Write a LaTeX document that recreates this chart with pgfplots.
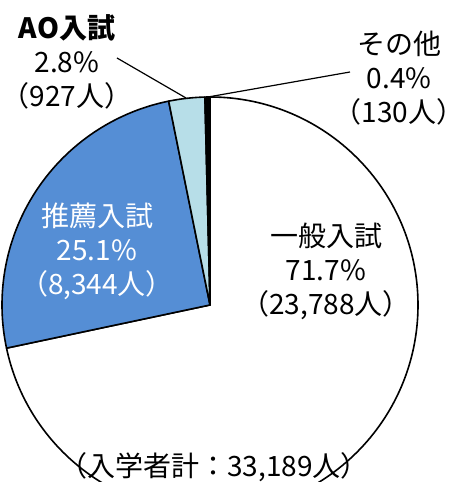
\documentclass[border=0pt]{standalone}
\usepackage{pgfplots}
\usepackage{pgfplotstable}
\pgfplotsset{compat=1.18}
\usepackage{fontspec}
\setmainfont{Noto Sans CJK JP}
\definecolor{suisenblue}{RGB}{85,142,213}
\definecolor{aoblue}{RGB}{183,222,232}
\pgfplotstableread{
label count
general 23788
suisen 8344
ao 927
other 130
}\entrytable
\begin{document}
\begin{tikzpicture}
\pgfplotstablegetelem{0}{count}\of\entrytable \edef\cA{\pgfplotsretval}
\pgfplotstablegetelem{1}{count}\of\entrytable \edef\cB{\pgfplotsretval}
\pgfplotstablegetelem{2}{count}\of\entrytable \edef\cC{\pgfplotsretval}
\pgfplotstablegetelem{3}{count}\of\entrytable \edef\cD{\pgfplotsretval}
\edef\tot{\fpeval{\cA+\cB+\cC+\cD}}
\edef\aZ{90}
\edef\aA{\fpeval{90-360*\cA/\tot}}
\edef\aB{\fpeval{\aA-360*\cB/\tot}}
\edef\aC{\fpeval{\aB-360*\cC/\tot}}
\edef\aD{\fpeval{\aC-360*\cD/\tot}}
\def\R{208}
\begin{axis}[name=ax, scale only axis, width=451pt, height=482pt,
  xmin=0, xmax=451, ymin=0, ymax=482, hide axis, clip mode=global]
\coordinate (O) at (axis cs:210,177);
\filldraw[fill=white, draw=black, line width=1.6pt, line join=round] (O) -- ++(\aZ:\R pt) arc[start angle=\aZ, end angle=\aA, radius=\R pt] -- cycle;
\filldraw[fill=suisenblue, draw=black, line width=1.6pt, line join=round] (O) -- ++(\aA:\R pt) arc[start angle=\aA, end angle=\aB, radius=\R pt] -- cycle;
\filldraw[fill=aoblue, draw=black, line width=1.6pt, line join=round] (O) -- ++(\aB:\R pt) arc[start angle=\aB, end angle=\aC, radius=\R pt] -- cycle;
\filldraw[fill=black, draw=black, line width=1.6pt, line join=round] (O) -- ++(\aC:\R pt) arc[start angle=\aC, end angle=\aD, radius=\R pt] -- cycle;
\draw[line width=1.2pt] (axis cs:117,424) -- (axis cs:186,384);
\draw[line width=1.2pt] (axis cs:350,410) -- (axis cs:208,385);
\tikzset{lbl/.style={align=center, inner sep=0pt, font=\fontsize{28}{34}\selectfont}}
\node[lbl] at (axis cs:67,420) {\textbf{AO入試}\\2.8\%\\（927人）};
\node[lbl] at (axis cs:399,404) {その他\\0.4\%\\（130人）};
\node[lbl, text=white] at (axis cs:97,231) {推薦入試\\25.1\%\\（8,344人）};
\node[lbl] at (axis cs:326,211) {一般入試\\71.7\%\\（23,788人）};
\node[lbl] at (axis cs:214,15) {（入学者計：33,189人）};
\end{axis}
\pgfresetboundingbox
\useasboundingbox (ax.south west) rectangle (ax.north east);
\end{tikzpicture}
\end{document}
